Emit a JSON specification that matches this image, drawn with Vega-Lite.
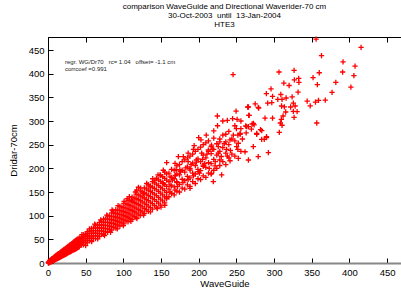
{
"$schema":"https://vega.github.io/schema/vega-lite/v6.json",
"width":353,"height":226,
"autosize":{"type":"none"},
"padding":{"left":48,"top":37,"right":0,"bottom":28},
"background":"white",
"title":{"text":["comparison WaveGuide and Directional Waverider-70 cm","30-Oct-2003 \u00a0until \u00a013-Jan-2004","HTE3"],"fontSize":8,"font":"Liberation Sans","fontWeight":"normal","lineHeight":8.8,"anchor":"middle","offset":5,"color":"#000"},
"config":{"view":{"stroke":"black","strokeWidth":1},
"axis":{"labelFont":"Liberation Sans","titleFont":"Liberation Sans","labelFontSize":9.5,"titleFontSize":9.5,"titleFontWeight":"normal","labelColor":"#000","titleColor":"#000","tickColor":"#000","domainColor":"#000","grid":false,"tickSize":-5,"labelPadding":9,"labelOverlap":false,"labelBound":false,"labelFlush":false}},
"layer":[
{"data":{"values":[
{"wg":0.5,"dr":0},{"wg":0.5,"dr":1.5},{"wg":1,"dr":0.5},{"wg":1.2,"dr":2.5},{"wg":1.8,"dr":3},{"wg":2,"dr":1},{"wg":2.3,"dr":4.5},{"wg":3,"dr":2},{"wg":3.2,"dr":4},{"wg":2.8,"dr":6},{"wg":4,"dr":2.5},{"wg":4.3,"dr":5},{"wg":3.9,"dr":7},{"wg":5,"dr":3},{"wg":5.2,"dr":6},{"wg":4.8,"dr":8.5},{"wg":6,"dr":4},{"wg":6.3,"dr":6.5},{"wg":5.7,"dr":9},{"wg":7,"dr":5},{"wg":7.2,"dr":8},{"wg":6.8,"dr":10.5},{"wg":8,"dr":5.5},{"wg":8.3,"dr":9},{"wg":7.7,"dr":12},{"wg":9,"dr":6.5},{"wg":9.2,"dr":10},{"wg":8.8,"dr":13},{"wg":10,"dr":7},{"wg":10.4,"dr":11},{"wg":9.6,"dr":14.5},{"wg":11,"dr":8},{"wg":11.2,"dr":12},{"wg":10.8,"dr":16},{"wg":12,"dr":9},{"wg":12.3,"dr":13},{"wg":11.7,"dr":17},{"wg":13,"dr":10},{"wg":13.2,"dr":14.5},{"wg":12.8,"dr":18},{"wg":14,"dr":10.5},{"wg":14.3,"dr":15},{"wg":13.6,"dr":19.5},{"wg":15,"dr":11.5},{"wg":15.2,"dr":16},{"wg":14.7,"dr":20},{"wg":16,"dr":12},{"wg":16.4,"dr":17},{"wg":15.8,"dr":21.5},{"wg":17,"dr":13},{"wg":17.2,"dr":18.5},{"wg":16.7,"dr":23},{"wg":18,"dr":14},{"wg":18.3,"dr":19},{"wg":17.8,"dr":24},{"wg":19,"dr":15},{"wg":19.3,"dr":20},{"wg":18.6,"dr":25},{"wg":20,"dr":15.5},{"wg":20.2,"dr":21},{"wg":19.8,"dr":26.5},{"wg":21,"dr":16},{"wg":21.4,"dr":22},{"wg":20.7,"dr":27.5},{"wg":22,"dr":17},{"wg":22.2,"dr":23.5},{"wg":21.6,"dr":29},{"wg":23,"dr":18.5},{"wg":23.3,"dr":24},{"wg":22.8,"dr":30},{"wg":24,"dr":19},{"wg":24.2,"dr":25.5},{"wg":23.7,"dr":31},{"wg":25,"dr":20},{"wg":25.4,"dr":27},{"wg":24.8,"dr":32.5},{"wg":26,"dr":21},{"wg":26.2,"dr":28},{"wg":25.7,"dr":33.5},{"wg":27,"dr":22},{"wg":27.3,"dr":29},{"wg":26.6,"dr":35},{"wg":28,"dr":22.5},{"wg":28.4,"dr":30},{"wg":27.9,"dr":36},{"wg":29,"dr":23.5},{"wg":29.2,"dr":30.5},{"wg":28.7,"dr":37.5},{"wg":30,"dr":24},{"wg":30.3,"dr":31.5},{"wg":29.6,"dr":38.5},{"wg":31,"dr":25},{"wg":31.2,"dr":33},{"wg":30.8,"dr":39.5},{"wg":32,"dr":26},{"wg":32.4,"dr":34},{"wg":31.7,"dr":41},{"wg":33,"dr":27},{"wg":33.2,"dr":35},{"wg":32.6,"dr":42},{"wg":34,"dr":28},{"wg":34.3,"dr":36},{"wg":33.8,"dr":43.5},{"wg":35,"dr":28.5},{"wg":35.2,"dr":37},{"wg":34.7,"dr":45},{"wg":36,"dr":29},{"wg":36.4,"dr":38},{"wg":35.6,"dr":46},{"wg":37,"dr":30},{"wg":37.2,"dr":39.5},{"wg":36.8,"dr":47.5},{"wg":38,"dr":31},{"wg":38.3,"dr":40},{"wg":37.7,"dr":48.5},{"wg":39,"dr":32},{"wg":39.2,"dr":41.5},{"wg":38.6,"dr":50},{"wg":40,"dr":33},{"wg":40.4,"dr":42},{"wg":39.8,"dr":51},
{"wg":41.5,"dr":34},{"wg":41.5,"dr":38},{"wg":41.5,"dr":42},{"wg":41.5,"dr":45.5},{"wg":41.5,"dr":49.5},{"wg":41.5,"dr":53},
{"wg":44,"dr":38},{"wg":44,"dr":42},{"wg":44,"dr":46.5},{"wg":44,"dr":50.5},{"wg":44,"dr":54.5},
{"wg":46.8,"dr":38.5},{"wg":46.8,"dr":43},{"wg":46.8,"dr":47},{"wg":46.8,"dr":51.5},{"wg":46.8,"dr":55.5},{"wg":46.8,"dr":60},
{"wg":49.5,"dr":43},{"wg":49.5,"dr":47.5},{"wg":49.5,"dr":52},{"wg":49.5,"dr":56.5},{"wg":49.5,"dr":61},
{"wg":52.1,"dr":42.7},{"wg":52.1,"dr":47.5},{"wg":52.1,"dr":52.2},{"wg":52.1,"dr":57},{"wg":52.1,"dr":61.8},{"wg":52.1,"dr":66.5},
{"wg":54.9,"dr":47.5},{"wg":54.9,"dr":52.5},{"wg":54.9,"dr":57.5},{"wg":54.9,"dr":62.5},{"wg":54.9,"dr":67.5},
{"wg":57.6,"dr":47},{"wg":57.6,"dr":52.5},{"wg":57.6,"dr":57.5},{"wg":57.6,"dr":62.8},{"wg":57.6,"dr":68},{"wg":57.6,"dr":73},
{"wg":60.2,"dr":52},{"wg":60.2,"dr":57.5},{"wg":60.2,"dr":63},{"wg":60.2,"dr":68.3},{"wg":60.2,"dr":73.8},
{"wg":63,"dr":51.5},{"wg":63,"dr":57.5},{"wg":63,"dr":63},{"wg":63,"dr":68.5},{"wg":63,"dr":74.3},{"wg":63,"dr":80},
{"wg":65.7,"dr":57},{"wg":65.7,"dr":62.5},{"wg":65.7,"dr":68.5},{"wg":65.7,"dr":74.5},{"wg":65.7,"dr":80.2},
{"wg":68.3,"dr":56},{"wg":68.3,"dr":62},{"wg":68.3,"dr":68},{"wg":68.3,"dr":74},{"wg":68.3,"dr":80.3},{"wg":68.3,"dr":86},
{"wg":71.1,"dr":61.5},{"wg":71.1,"dr":67.8},{"wg":71.1,"dr":74},{"wg":71.1,"dr":80.3},{"wg":71.1,"dr":86.6},
{"wg":73.8,"dr":60.5},{"wg":73.8,"dr":67},{"wg":73.8,"dr":73.5},{"wg":73.8,"dr":80},{"wg":73.8,"dr":86.5},{"wg":73.8,"dr":93},
{"wg":76.4,"dr":66},{"wg":76.4,"dr":72.7},{"wg":76.4,"dr":79.4},{"wg":76.4,"dr":86},{"wg":76.4,"dr":92.8},
{"wg":79.2,"dr":65},{"wg":79.2,"dr":72},{"wg":79.2,"dr":78.8},{"wg":79.2,"dr":85.8},{"wg":79.2,"dr":92.7},{"wg":79.2,"dr":99.6},
{"wg":81.9,"dr":70.8},{"wg":81.9,"dr":78},{"wg":81.9,"dr":85},{"wg":81.9,"dr":92.3},{"wg":81.9,"dr":99.4},
{"wg":84.5,"dr":69.3},{"wg":84.5,"dr":76.7},{"wg":84.5,"dr":84},{"wg":84.5,"dr":91.4},{"wg":84.5,"dr":98.7},{"wg":84.5,"dr":106},
{"wg":87.3,"dr":75.4},{"wg":87.3,"dr":83},{"wg":87.3,"dr":90.5},{"wg":87.3,"dr":98.1},{"wg":87.3,"dr":105.7},
{"wg":90,"dr":73.8},{"wg":90,"dr":81.6},{"wg":90,"dr":89.4},{"wg":90,"dr":97.2},{"wg":90,"dr":105},{"wg":90,"dr":112.8},
{"wg":92.6,"dr":79.9},{"wg":92.6,"dr":87.9},{"wg":92.6,"dr":95.9},{"wg":92.6,"dr":103.9},{"wg":92.6,"dr":111.9},
{"wg":95.4,"dr":78.2},{"wg":95.4,"dr":86.4},{"wg":95.4,"dr":94.7},{"wg":95.4,"dr":102.9},{"wg":95.4,"dr":111.2},{"wg":95.4,"dr":119.4},
{"wg":98.1,"dr":84.6},{"wg":98.1,"dr":93},{"wg":98.1,"dr":101.5},{"wg":98.1,"dr":109.9},{"wg":98.1,"dr":118.4},
{"wg":100.7,"dr":82.6},{"wg":100.7,"dr":91.3},{"wg":100.7,"dr":99.9},{"wg":100.7,"dr":108.6},{"wg":100.7,"dr":117.2},{"wg":100.7,"dr":125.9},
{"wg":103.5,"dr":89.3},{"wg":103.5,"dr":98.2},{"wg":103.5,"dr":107.1},{"wg":103.5,"dr":116},{"wg":103.5,"dr":124.9},
{"wg":106.2,"dr":87.1},{"wg":106.2,"dr":96.2},{"wg":106.2,"dr":105.3},{"wg":106.2,"dr":114.4},{"wg":106.2,"dr":123.5},{"wg":106.2,"dr":132.6},
{"wg":108.8,"dr":93.9},{"wg":108.8,"dr":103.2},{"wg":108.8,"dr":112.5},{"wg":108.8,"dr":121.8},{"wg":108.8,"dr":131.1},
{"wg":111.6,"dr":91.5},{"wg":111.6,"dr":101},{"wg":111.6,"dr":110.6},{"wg":111.6,"dr":120.1},{"wg":111.6,"dr":129.6},{"wg":111.6,"dr":139.1},
{"wg":114.3,"dr":98.6},{"wg":114.3,"dr":108.3},{"wg":114.3,"dr":118.1},{"wg":114.3,"dr":127.8},{"wg":114.3,"dr":137.5},
{"wg":116.9,"dr":95.9},{"wg":116.9,"dr":105.9},{"wg":116.9,"dr":115.8},{"wg":116.9,"dr":125.8},{"wg":116.9,"dr":135.7},{"wg":116.9,"dr":145.7},
{"wg":119.7,"dr":103.3},{"wg":119.7,"dr":113.5},{"wg":119.7,"dr":123.7},{"wg":119.7,"dr":133.8},{"wg":119.7,"dr":144},
{"wg":122.4,"dr":100.4},{"wg":122.4,"dr":110.8},{"wg":122.4,"dr":121.2},{"wg":122.4,"dr":131.6},{"wg":122.4,"dr":142},{"wg":122.4,"dr":152.4},
{"wg":125,"dr":107.8},{"wg":125,"dr":118.4},{"wg":125,"dr":129},{"wg":125,"dr":139.6},{"wg":125,"dr":150.2},
{"wg":127.8,"dr":104.8},{"wg":127.8,"dr":115.6},{"wg":127.8,"dr":126.4},{"wg":127.8,"dr":137.3},{"wg":127.8,"dr":148.1},{"wg":127.8,"dr":158.9},
{"wg":130.5,"dr":112.5},{"wg":130.5,"dr":123.6},{"wg":130.5,"dr":134.6},{"wg":130.5,"dr":145.6},{"wg":130.5,"dr":156.7},
{"wg":133.1,"dr":109.1},{"wg":133.1,"dr":120.3},{"wg":133.1,"dr":131.6},{"wg":133.1,"dr":142.8},{"wg":133.1,"dr":154.1},{"wg":133.1,"dr":165.3},
{"wg":135.9,"dr":117.1},{"wg":135.9,"dr":128.6},{"wg":135.9,"dr":140.1},{"wg":135.9,"dr":151.6},{"wg":135.9,"dr":163.1},
{"wg":138.6,"dr":113.7},{"wg":138.6,"dr":125.4},{"wg":138.6,"dr":137},{"wg":138.6,"dr":148.7},{"wg":138.6,"dr":160.4},{"wg":138.6,"dr":172.1},
{"wg":141.2,"dr":121.8},{"wg":141.2,"dr":133.7},{"wg":141.2,"dr":145.6},{"wg":141.2,"dr":157.5},{"wg":141.2,"dr":169.4},
{"wg":144,"dr":118.1},{"wg":144,"dr":130.2},{"wg":144,"dr":142.3},{"wg":144,"dr":154.5},{"wg":144,"dr":166.6},{"wg":144,"dr":178.7},
{"wg":146.7,"dr":126.5},{"wg":146.7,"dr":138.8},{"wg":146.7,"dr":151.2},{"wg":146.7,"dr":163.5},{"wg":146.7,"dr":175.8},
{"wg":149.3,"dr":122.4},{"wg":149.3,"dr":135},{"wg":149.3,"dr":147.5},{"wg":149.3,"dr":160},{"wg":149.3,"dr":172.6},{"wg":149.3,"dr":185.1},
{"wg":152.1,"dr":131.1},{"wg":152.1,"dr":143.8},{"wg":152.1,"dr":156.6},{"wg":152.1,"dr":169.4},{"wg":152.1,"dr":182.2},
{"wg":154.8,"dr":126.9},{"wg":154.8,"dr":139.9},{"wg":154.8,"dr":152.9},{"wg":154.8,"dr":165.8},{"wg":154.8,"dr":178.8},{"wg":154.8,"dr":191.8},
{"wg":157.4,"dr":135.7},{"wg":157.4,"dr":148.9},{"wg":157.4,"dr":162.1},{"wg":157.4,"dr":175.3},{"wg":157.4,"dr":188.5},
{"wg":45,"dr":60},{"wg":55,"dr":72},{"wg":62,"dr":82},{"wg":70,"dr":91},{"wg":78,"dr":101},{"wg":86,"dr":110},{"wg":93,"dr":121},{"wg":101,"dr":130},{"wg":108,"dr":140},{"wg":116,"dr":150},{"wg":123,"dr":158},{"wg":131,"dr":168},{"wg":139,"dr":178},{"wg":146,"dr":186},{"wg":153,"dr":196},{"wg":120,"dr":160},{"wg":105,"dr":136},{"wg":85,"dr":112},
{"wg":50,"dr":37},{"wg":58,"dr":45},{"wg":66,"dr":51},{"wg":75,"dr":58},{"wg":83,"dr":65},{"wg":92,"dr":72},{"wg":100,"dr":79},{"wg":110,"dr":88},{"wg":118,"dr":94},{"wg":127,"dr":101},{"wg":136,"dr":108},{"wg":145,"dr":115},{"wg":155,"dr":122},{"wg":150,"dr":118},
{"wg":162,"dr":165},{"wg":165,"dr":175},{"wg":169,"dr":185},{"wg":172,"dr":162},{"wg":176,"dr":193},{"wg":179,"dr":170},{"wg":183,"dr":201},{"wg":186,"dr":176},{"wg":190,"dr":208},{"wg":193,"dr":184},{"wg":197,"dr":213},{"wg":201,"dr":190},{"wg":205,"dr":219},{"wg":208,"dr":210},{"wg":211,"dr":230},{"wg":214,"dr":200},{"wg":218,"dr":240},{"wg":222,"dr":214},{"wg":226,"dr":246},{"wg":230,"dr":225},{"wg":234,"dr":252},{"wg":238,"dr":226},{"wg":242,"dr":238},{"wg":246,"dr":270},{"wg":250,"dr":284},{"wg":258,"dr":262},{"wg":162,"dr":150},{"wg":170,"dr":197},{"wg":186,"dr":232},{"wg":194,"dr":248},{"wg":200,"dr":265},{"wg":210,"dr":270},{"wg":225,"dr":290},{"wg":232,"dr":300},{"wg":245,"dr":305},
{"wg":160.5,"dr":140},{"wg":160.5,"dr":156},{"wg":160.5,"dr":172},{"wg":160.5,"dr":190},
{"wg":164,"dr":147},{"wg":164,"dr":163},{"wg":164,"dr":181},{"wg":164,"dr":198},
{"wg":167.5,"dr":144},{"wg":167.5,"dr":161},{"wg":167.5,"dr":178},{"wg":167.5,"dr":196},
{"wg":171,"dr":152},{"wg":171,"dr":170},{"wg":171,"dr":188},{"wg":171,"dr":205},
{"wg":174.5,"dr":150},{"wg":174.5,"dr":166},{"wg":174.5,"dr":186},{"wg":174.5,"dr":208},
{"wg":178,"dr":158},{"wg":178,"dr":177},{"wg":178,"dr":196},{"wg":178,"dr":214},
{"wg":181.5,"dr":156},{"wg":181.5,"dr":174},{"wg":181.5,"dr":192},{"wg":181.5,"dr":218},
{"wg":185,"dr":165},{"wg":185,"dr":183},{"wg":185,"dr":203},{"wg":185,"dr":222},
{"wg":188.5,"dr":162},{"wg":188.5,"dr":180},{"wg":188.5,"dr":200},{"wg":188.5,"dr":226},
{"wg":192,"dr":172},{"wg":192,"dr":190},{"wg":192,"dr":211},{"wg":192,"dr":230},
{"wg":195.5,"dr":168},{"wg":195.5,"dr":188},{"wg":195.5,"dr":206},{"wg":195.5,"dr":236},
{"wg":199,"dr":178},{"wg":199,"dr":198},{"wg":199,"dr":220},{"wg":199,"dr":240},
{"wg":202.5,"dr":176},{"wg":202.5,"dr":195},{"wg":202.5,"dr":214},{"wg":202.5,"dr":245},
{"wg":206,"dr":184},{"wg":206,"dr":204},{"wg":206,"dr":228},{"wg":206,"dr":250},
{"wg":209.5,"dr":181},{"wg":209.5,"dr":202},{"wg":209.5,"dr":222},{"wg":209.5,"dr":254},
{"wg":213,"dr":190},{"wg":213,"dr":212},{"wg":213,"dr":236},{"wg":213,"dr":258},
{"wg":216.5,"dr":188},{"wg":216.5,"dr":210},{"wg":216.5,"dr":231},{"wg":216.5,"dr":246},
{"wg":220,"dr":196},{"wg":220,"dr":219},{"wg":220,"dr":240},{"wg":220,"dr":264},
{"wg":224,"dr":200},{"wg":224,"dr":228},{"wg":224,"dr":252},
{"wg":228,"dr":206},{"wg":228,"dr":236},{"wg":228,"dr":262},
{"wg":232,"dr":214},{"wg":232,"dr":244},{"wg":232,"dr":270},
{"wg":236,"dr":208},{"wg":236,"dr":232},{"wg":236,"dr":256},
{"wg":240,"dr":222},{"wg":240,"dr":250},{"wg":240,"dr":278},
{"wg":244,"dr":230},{"wg":244,"dr":262},
{"wg":248,"dr":226},{"wg":248,"dr":258},{"wg":248,"dr":290},
{"wg":252,"dr":240},{"wg":252,"dr":270},
{"wg":256,"dr":236},{"wg":256,"dr":284},{"wg":256,"dr":300},
{"wg":224.8,"dr":310.6},{"wg":249.6,"dr":321},{"wg":266,"dr":329.6},{"wg":279,"dr":329},{"wg":267,"dr":312},{"wg":238,"dr":301.5},{"wg":251,"dr":303.6},{"wg":262.4,"dr":289.5},{"wg":272.6,"dr":295},{"wg":220,"dr":279},{"wg":236,"dr":272},{"wg":255,"dr":274},{"wg":266,"dr":288},{"wg":203,"dr":260},{"wg":217,"dr":249},{"wg":228,"dr":256},{"wg":241.6,"dr":260},{"wg":252.6,"dr":253},{"wg":277,"dr":274},{"wg":283.6,"dr":261},{"wg":290,"dr":267},{"wg":193,"dr":240},{"wg":204,"dr":232},{"wg":212.8,"dr":238.7},{"wg":226,"dr":232},{"wg":237,"dr":240},{"wg":250.4,"dr":245.7},{"wg":261.5,"dr":235},{"wg":272.5,"dr":245.7},{"wg":279,"dr":224.6},{"wg":292.5,"dr":233},{"wg":173,"dr":224.6},{"wg":179.6,"dr":224.6},{"wg":186,"dr":214},{"wg":197,"dr":217.6},{"wg":206,"dr":207},{"wg":221.7,"dr":205},{"wg":228,"dr":217.6},{"wg":241.6,"dr":216},{"wg":252.6,"dr":221},{"wg":266,"dr":217.6},{"wg":157.5,"dr":212},{"wg":168.6,"dr":210.6},{"wg":175,"dr":196.5},{"wg":188.5,"dr":196.5},{"wg":199.5,"dr":193},{"wg":217,"dr":189.5},{"wg":230.5,"dr":186},{"wg":219.4,"dr":171.8},{"wg":162,"dr":182},{"wg":148.7,"dr":186},{"wg":142,"dr":175},{"wg":153,"dr":168},{"wg":170.8,"dr":171.8},{"wg":188.5,"dr":157.6},{"wg":135.4,"dr":161},{"wg":117.7,"dr":154},{"wg":126.5,"dr":147},{"wg":157.5,"dr":140},{"wg":168.6,"dr":154},{"wg":111,"dr":133},
{"wg":355.8,"dr":473},{"wg":415.5,"dr":455.7},{"wg":363,"dr":438},{"wg":391.6,"dr":425},{"wg":407.5,"dr":416},{"wg":306.6,"dr":403.5},{"wg":326.6,"dr":407},{"wg":360,"dr":402},{"wg":391,"dr":403.5},{"wg":406,"dr":395.7},{"wg":351.8,"dr":391.5},{"wg":332.7,"dr":390},{"wg":327,"dr":387},{"wg":333,"dr":381.7},{"wg":313,"dr":380},{"wg":320,"dr":375},{"wg":357.5,"dr":376.7},{"wg":382,"dr":381.7},{"wg":402,"dr":371.8},{"wg":296,"dr":368},{"wg":289.8,"dr":357.7},{"wg":309,"dr":356},{"wg":331.9,"dr":361},{"wg":377,"dr":360.5},{"wg":298,"dr":352},{"wg":316,"dr":348.6},{"wg":324,"dr":351},{"wg":305,"dr":345.7},{"wg":310.6,"dr":345.7},{"wg":344,"dr":342},{"wg":359,"dr":343.5},{"wg":368,"dr":344},{"wg":355,"dr":340},{"wg":348,"dr":332},{"wg":291.6,"dr":338},{"wg":297,"dr":338.7},{"wg":325.6,"dr":338},{"wg":310,"dr":331.7},{"wg":313.7,"dr":330},{"wg":322,"dr":329.6},{"wg":328,"dr":331.7},{"wg":265,"dr":329.6},{"wg":275,"dr":336},{"wg":279.6,"dr":327.5},{"wg":315.5,"dr":319},{"wg":325.6,"dr":320.5},{"wg":330.6,"dr":319.7},{"wg":312,"dr":310.6},{"wg":326.6,"dr":307.8},{"wg":266.4,"dr":312},{"wg":288,"dr":306},{"wg":298,"dr":306},{"wg":309.7,"dr":303.5},{"wg":308.4,"dr":295.8},{"wg":310.6,"dr":291},{"wg":356.7,"dr":295.8},{"wg":307,"dr":276},{"wg":263.7,"dr":288},{"wg":271,"dr":293.7},{"wg":273.5,"dr":292},{"wg":270,"dr":283},{"wg":282,"dr":281.6},{"wg":283.7,"dr":279.5},{"wg":277,"dr":272},{"wg":255,"dr":272},{"wg":263,"dr":275},{"wg":290,"dr":264.7},{"wg":287,"dr":261},{"wg":245.6,"dr":398}
]},
"mark":{"type":"point","shape":"M-1,0H1M0,-1V1","filled":false,"stroke":"#ff0000","strokeWidth":1.3,"size":28,"opacity":1},
"encoding":{
"x":{"field":"wg","type":"quantitative","scale":{"domain":[0,468.5],"nice":false,"zero":true},"axis":{"title":"WaveGuide","values":[0,50,100,150,200,250,300,350,400,450],"domainColor":"#888","domainWidth":2,"titlePadding":2}},
"y":{"field":"dr","type":"quantitative","scale":{"domain":[0,477.5],"nice":false},"axis":{"title":"Dridar-70cm","values":[0,50,100,150,200,250,300,350,400,450],"titlePadding":10}}
}},
{"data":{"values":[{}]},
"mark":{"type":"text","text":["regr. WG/Dr70 \u00a0 rc= 1.04 \u00a0 offset= -1.1 cm","corrcoef =0.991"],"font":"Liberation Sans","fontSize":6,"lineHeight":7.7,"align":"left","baseline":"top","color":"#222"},
"encoding":{
"x":{"datum":22.6,"type":"quantitative","axis":{"orient":"top","labels":false,"title":null,"domain":false,"values":[0,50,100,150,200,250,300,350,400,450]}},
"y":{"datum":432,"type":"quantitative","axis":{"title":"Dridar-70cm","values":[0,50,100,150,200,250,300,350,400,450],"titlePadding":10}}
}}
],
"resolve":{"axis":{"x":"independent"}}
}
